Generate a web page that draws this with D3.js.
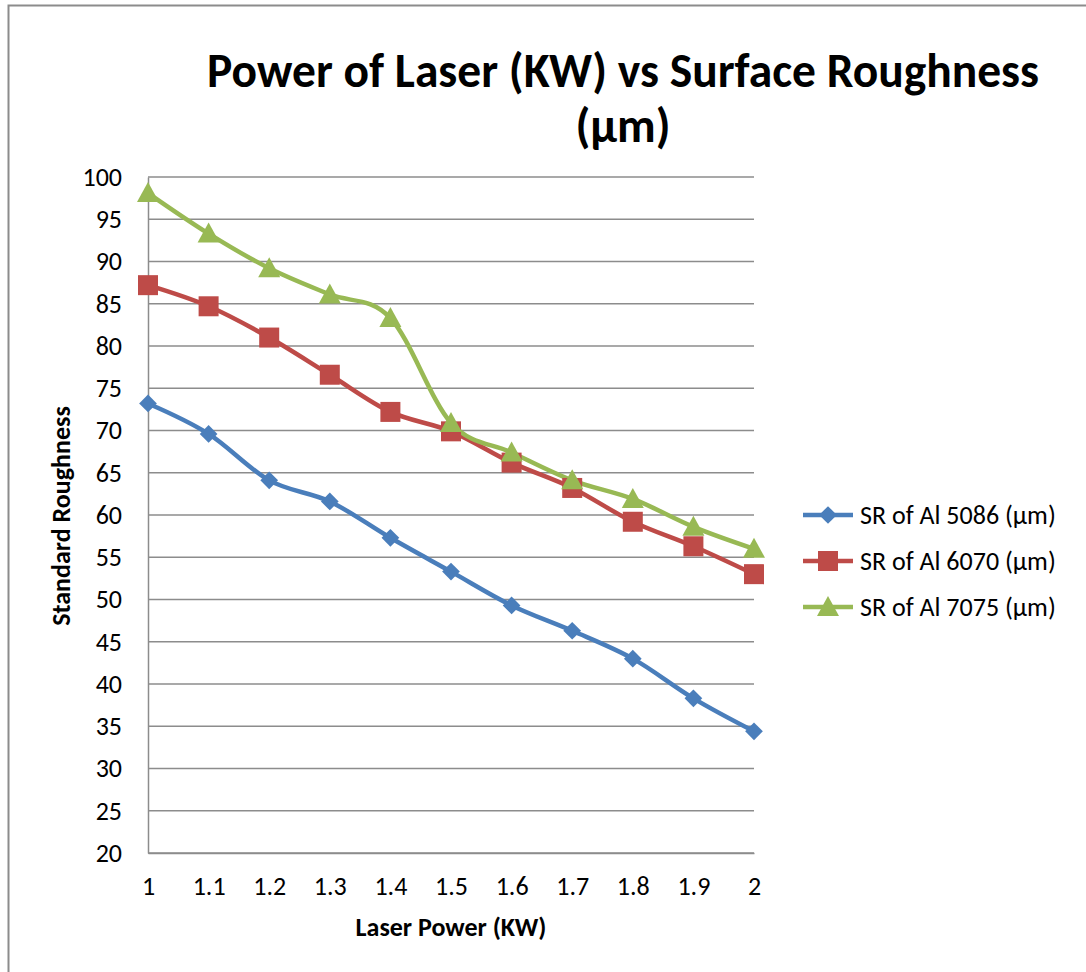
<!DOCTYPE html>
<html>
<head>
<meta charset="utf-8">
<script src="https://cdn.jsdelivr.net/npm/d3@7"></script>
<style>
  html, body { margin: 0; padding: 0; background: #fff; }
  svg { display: block; font-family: Calibri, Carlito, "Open Sans", sans-serif; }
</style>
</head>
<body>
<div id="chart"></div>
<script>
// Laser power vs surface roughness - three aluminium alloys
const powers = [1, 1.1, 1.2, 1.3, 1.4, 1.5, 1.6, 1.7, 1.8, 1.9, 2];
const xTicks = ["1", "1.1", "1.2", "1.3", "1.4", "1.5", "1.6", "1.7", "1.8", "1.9", "2"];
const yTicks = [20, 25, 30, 35, 40, 45, 50, 55, 60, 65, 70, 75, 80, 85, 90, 95, 100];

const al5086 = [73.2, 69.6, 64.1, 61.6, 57.3, 53.3, 49.3, 46.3, 43.0, 38.3, 34.4];
const al6070 = [87.2, 84.7, 81.0, 76.6, 72.2, 69.9, 66.2, 63.2, 59.2, 56.3, 53.0];
const al7075 = [98.1, 93.3, 89.2, 86.1, 83.3, 70.9, 67.4, 64.1, 61.9, 58.6, 56.0];

const seriesNames = ["SR of Al 5086 (µm)", "SR of Al 6070 (µm)", "SR of Al 7075 (µm)"];
const seriesColors = ["#4a7ebb", "#be4b48", "#98b954"];
const seriesMarkers = ["diamond", "square", "triangle"];

const W = 1086, H = 972;
const margin = { top: 177, left: 148, right: 332, bottom: 119 };
const width = W - margin.left - margin.right;
const height = H - margin.top - margin.bottom;
const fontStack = "Calibri, Carlito, 'Open Sans', sans-serif";

const svg = d3.select("#chart").append("svg")
  .attr("width", W)
  .attr("height", H);

// outer chart frame (only top and left edges are visible)
svg.append("path")
  .attr("d", `M8.5,${H} V5.5 H${W}`)
  .attr("fill", "none")
  .attr("stroke", "#8c8c8c")
  .attr("stroke-width", 2);

const g = svg.append("g").attr("transform", `translate(${margin.left},${margin.top})`);

const x = d3.scaleLinear().domain([1, 2]).range([0, width]);
const y = d3.scaleLinear().domain([20, 100]).range([height, 0]);

// gridlines
g.append("g")
  .selectAll("line")
  .data(yTicks)
  .join("line")
  .attr("x1", 0)
  .attr("x2", width)
  .attr("y1", d => y(d))
  .attr("y2", d => y(d))
  .attr("stroke", "#8c8c8c")
  .attr("stroke-width", 1.5);

// y axis
const yAxis = g.append("g")
  .call(d3.axisLeft(y).tickValues(yTicks).tickSize(0).tickPadding(26));
yAxis.select(".domain").attr("stroke", "#8c8c8c").attr("stroke-width", 1.5);
yAxis.selectAll("text").attr("font-size", 26).attr("fill", "#000")
  .style("font-family", fontStack);

// x axis
const xAxis = g.append("g")
  .attr("transform", `translate(0,${height})`)
  .call(d3.axisBottom(x).tickValues(powers).tickFormat((d, i) => xTicks[i]).tickSize(0).tickPadding(24));
xAxis.select(".domain").attr("stroke", "#8c8c8c").attr("stroke-width", 1.5);
xAxis.selectAll("text").attr("font-size", 26).attr("fill", "#000")
  .style("font-family", fontStack);

// lines
const line = d3.line()
  .x((d, i) => x(powers[i]))
  .y(d => y(d))
  .curve(d3.curveCatmullRom.alpha(0));

const allSeries = [al5086, al6070, al7075];

function markerPath(type) {
  if (type === "diamond") return d3.symbol(d3.symbolDiamond2, 200)();
  if (type === "square") return "M-10,-10H10V10H-10Z";
  return "M0,-11L11,9H-11Z";
}

allSeries.forEach((vals, s) => {
  g.append("path")
    .datum(vals)
    .attr("d", line)
    .attr("fill", "none")
    .attr("stroke", seriesColors[s])
    .attr("stroke-width", 4.5)
    .attr("stroke-linejoin", "round");
});

allSeries.forEach((vals, s) => {
  g.append("g")
    .selectAll("path")
    .data(vals)
    .join("path")
    .attr("transform", (d, i) => `translate(${x(powers[i])},${y(d)})`)
    .attr("d", markerPath(seriesMarkers[s]))
    .attr("fill", seriesColors[s]);
});

// title (two lines)
svg.append("text")
  .attr("x", 623)
  .attr("y", 87)
  .attr("text-anchor", "middle")
  .attr("font-size", 47.5)
  .attr("font-weight", "bold")
  .text("Power of Laser (KW) vs Surface Roughness");
svg.append("text")
  .attr("x", 623)
  .attr("y", 142)
  .attr("text-anchor", "middle")
  .attr("font-size", 47.5)
  .attr("font-weight", "bold")
  .text("(µm)");

// axis titles
svg.append("text")
  .attr("x", 451)
  .attr("y", 936)
  .attr("text-anchor", "middle")
  .attr("font-size", 26)
  .attr("font-weight", "bold")
  .text("Laser Power (KW)");

svg.append("text")
  .attr("transform", "translate(70,516) rotate(-90)")
  .attr("text-anchor", "middle")
  .attr("font-size", 26)
  .attr("font-weight", "bold")
  .text("Standard Roughness");

// legend
const legend = svg.append("g").attr("transform", "translate(803,515)");
seriesNames.forEach((name, i) => {
  const row = legend.append("g").attr("transform", `translate(0,${i * 46})`);
  row.append("line")
    .attr("x1", 0).attr("x2", 50)
    .attr("stroke", seriesColors[i])
    .attr("stroke-width", 4.5);
  row.append("path")
    .attr("transform", "translate(25,0)")
    .attr("d", markerPath(seriesMarkers[i]))
    .attr("fill", seriesColors[i]);
  row.append("text")
    .attr("x", 57)
    .attr("dy", "0.35em")
    .attr("font-size", 26)
    .text(name);
});
</script>
</body>
</html>
